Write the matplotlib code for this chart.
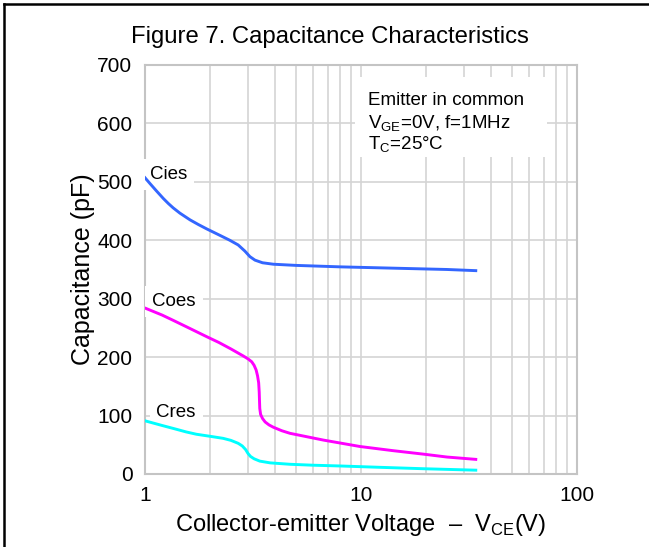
import matplotlib
matplotlib.use("Agg")
import matplotlib.pyplot as plt
from matplotlib.ticker import LogLocator, NullFormatter, FixedLocator, FixedFormatter
from matplotlib.patches import Rectangle
from matplotlib.lines import Line2D

plt.rcParams['font.family'] = ['Liberation Sans', 'DejaVu Sans']
plt.rcParams['mathtext.fontset'] = 'custom'
plt.rcParams['mathtext.rm'] = 'Liberation Sans'

# Values (VCE in V, capacitance in pF)
cies_v = [1.0, 1.055, 1.133, 1.216, 1.282, 1.35, 1.45, 1.615, 1.765, 1.93, 2.22, 2.47, 2.70,
          2.90, 3.06, 3.23, 3.5, 3.93, 5.0, 8.0, 15.0, 25.0, 34.0]
cies_c = [507, 497, 484, 471.5, 463, 455.5, 446.5, 435, 427, 419.5, 408.5, 400, 392,
          381.5, 372, 366, 361.5, 359, 357, 354.5, 352, 350, 348]

coes_v = [1.0, 1.2, 1.35, 1.615, 1.93, 2.2, 2.5, 2.85, 3.0, 3.12, 3.2, 3.27, 3.32, 3.36, 3.38,
          3.39, 3.40, 3.43, 3.5, 3.6, 3.75, 3.93, 4.3, 4.69, 6.7, 9.9, 14.0, 19.4, 25.0, 34.0]
coes_c = [284, 272, 263, 249, 235, 225, 214, 202, 197, 192, 186, 178, 168, 156, 140,
          125, 112, 102, 95, 89, 84, 80, 74, 69.6, 58, 47, 40, 34, 29, 25]

cres_v = [1.0, 1.2, 1.35, 1.55, 1.73, 2.0, 2.3, 2.5, 2.7, 2.82, 2.92, 3.0, 3.08, 3.2, 3.4,
          3.8, 4.69, 6.0, 8.0, 12.0, 19.4, 34.0]
cres_c = [91, 83, 78, 72, 68, 64.5, 61, 57.5, 52.5, 48, 42, 35, 30, 26, 22,
          19, 16.6, 15, 13.7, 11.5, 9, 6.5]

yticks = [0, 100, 200, 300, 400, 500, 600, 700]
xticks = [1, 10, 100]
xtick_labels = ['1', '10', '100']

fig = plt.figure(figsize=(6.49, 5.47), dpi=100)
ax = fig.add_axes([0.2234, 0.1335, 0.6656, 0.7477])

ax.plot(cies_v, cies_c, color='#3366ff', lw=2.1, solid_joinstyle='round', zorder=4)
ax.plot(coes_v, coes_c, color='#ff00ff', lw=2.1, solid_joinstyle='round', zorder=4)
ax.plot(cres_v, cres_c, color='#00ffff', lw=2.1, solid_joinstyle='round', zorder=4)

ax.set_xscale('log')
ax.set_xlim(1, 100)
ax.set_ylim(0, 700)
ax.xaxis.set_major_locator(FixedLocator(xticks))
ax.xaxis.set_major_formatter(FixedFormatter(xtick_labels))
ax.xaxis.set_minor_locator(LogLocator(base=10, subs=range(2, 10)))
ax.xaxis.set_minor_formatter(NullFormatter())
ax.set_yticks(yticks)

ax.grid(True, which='both', color='#d4d4d4', lw=1.2)
ax.set_axisbelow(True)
ax.tick_params(which='both', length=0, labelsize=15, pad=9)
for s in ax.spines.values():
    s.set_color('#c4c4c4')
    s.set_linewidth(1.5)

ax.set_ylabel('Capacitance (pF)', fontsize=18, labelpad=1.5)
ax.set_xlabel(r'Collector-emitter Voltage  –  V$_{\mathrm{CE}}$(V)', fontsize=17, labelpad=5)

fig.text(0.509, 0.933, 'Figure 7. Capacitance Characteristics', ha='center', va='center', fontsize=17.2)

# white box behind the conditions text
ax.add_patch(Rectangle((0.486, 0.775), 0.445, 0.196, transform=ax.transAxes,
                       facecolor='white', edgecolor='none', zorder=2))
ax.text(0.516, 0.912, 'Emitter in common', transform=ax.transAxes, fontsize=13.5, va='center', zorder=3)
ax.text(0.516, 0.857, r'V$_{\mathrm{GE}}$=0V, f=1MHz', transform=ax.transAxes, fontsize=13.5, va='center', zorder=3)
ax.text(0.516, 0.805, r'T$_{\mathrm{C}}$=25°C', transform=ax.transAxes, fontsize=13.5, va='center', zorder=3)

lbl_box = dict(facecolor='white', edgecolor='none', pad=5)
ax.text(1.05, 513, 'Cies', fontsize=13.5, va='center', bbox=lbl_box, zorder=3)
ax.text(1.08, 295, 'Coes', fontsize=13.5, va='center', bbox=lbl_box, zorder=3)
ax.text(1.13, 106, 'Cres', fontsize=13.5, va='center', bbox=lbl_box, zorder=3)

# outer frame (top and left edges)
fig.add_artist(Line2D([4 / 649, 1], [1 - 4 / 547] * 2, transform=fig.transFigure, color='black', lw=1.8))
fig.add_artist(Line2D([4 / 649] * 2, [0, 1 - 4 / 547], transform=fig.transFigure, color='black', lw=1.8))

fig.savefig('out.png', dpi=100)
